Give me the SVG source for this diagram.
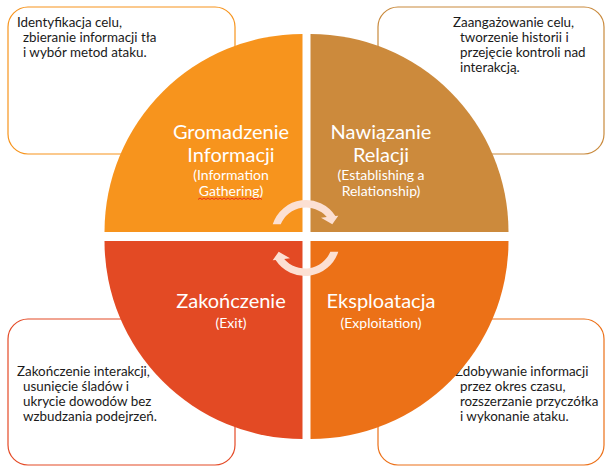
<svg xmlns="http://www.w3.org/2000/svg" width="611" height="473" viewBox="0 0 611 473">
<style>
.box{fill:#FFFFFF;stroke-width:1.2}
.bt{font-family:Lato,"Liberation Sans",sans-serif;font-size:13.4px;fill:#1A1A1A}
.qt{font-family:Lato,"Liberation Sans",sans-serif;fill:#FFFFFF;text-anchor:middle}
.big{font-size:20px}
.sm{font-size:14px}
.arr{fill:#FCE0D3}
</style>
<rect width="611" height="473" fill="#FFFFFF"/>
<g id="box-gathering">
<rect class="box" x="8" y="7" width="227" height="147" rx="20" stroke="#F7941D"/>
<text class="bt"><tspan x="17" y="27">Identyfikacja celu,</tspan><tspan x="23" y="42">zbieranie informacji tła</tspan><tspan x="23" y="57">i wybór metod ataku.</tspan></text>
</g>
<g id="box-relationship">
<rect class="box" x="378" y="7" width="226" height="147" rx="20" stroke="#C98A3D"/>
<text class="bt"><tspan x="453" y="27">Zaangażowanie celu,</tspan><tspan x="460" y="42">tworzenie historii i</tspan><tspan x="460" y="57">przejęcie kontroli nad</tspan><tspan x="460" y="72">interakcją.</tspan></text>
</g>
<g id="box-exit">
<rect class="box" x="8" y="319" width="227" height="146" rx="20" stroke="#E44A26"/>
<text class="bt"><tspan x="17" y="376">Zakończenie interakcji,</tspan><tspan x="23" y="391">usunięcie śladów i</tspan><tspan x="23" y="406">ukrycie dowodów bez</tspan><tspan x="23" y="421">wzbudzania podejrzeń.</tspan></text>
</g>
<g id="box-exploitation">
<rect class="box" x="378" y="319" width="226" height="146" rx="20" stroke="#EC7018"/>
<text class="bt"><tspan x="455" y="376">Zdobywanie informacji</tspan><tspan x="460" y="391">przez okres czasu,</tspan><tspan x="460" y="406">rozszerzanie przyczółka</tspan><tspan x="460" y="421">i wykonanie ataku.</tspan></text>
</g>
<g id="q-gathering">
<path d="M302.5,232 L104.5,232 A198,198 0 0 1 302.5,34 Z" fill="#F7941D"/>
<text class="qt"><tspan class="big" x="231" y="139">Gromadzenie</tspan><tspan class="big" x="231" y="162">Informacji</tspan><tspan class="sm" x="231" y="180">(Information</tspan><tspan class="sm" x="231" y="196">Gathering)</tspan></text>
<path d="M198,199.5 l2,-1.5 l2,1.5 l2,-1.5 l2,1.5 l2,-1.5 l2,1.5 l2,-1.5 l2,1.5 l2,-1.5 l2,1.5 l2,-1.5 l2,1.5 l2,-1.5 l2,1.5 l2,-1.5 l2,1.5 l2,-1.5 l2,1.5 l2,-1.5 l2,1.5 l2,-1.5 l2,1.5 l2,-1.5 l2,1.5 l2,-1.5 l2,1.5 l2,-1.5 l2,1.5 l2,-1.5 l2,1.5 l2,-1.5 l2,1.5" fill="none" stroke="#E8141B" stroke-width="0.8"/>
</g>
<g id="q-relationship">
<path d="M310.5,232 L310.5,34 A198,198 0 0 1 508.5,232 Z" fill="#CC8A3C"/>
<text class="qt"><tspan class="big" x="381" y="139">Nawiązanie</tspan><tspan class="big" x="381" y="162">Relacji</tspan><tspan class="sm" x="381" y="180">(Establishing a</tspan><tspan class="sm" x="381" y="196">Relationship)</tspan></text>
</g>
<g id="q-exit">
<path d="M302.5,241 L302.5,439 A198,198 0 0 1 104.5,241 Z" fill="#E34A24"/>
<text class="qt"><tspan class="big" x="231" y="308">Zakończenie</tspan><tspan class="sm" x="231" y="328">(Exit)</tspan></text>
</g>
<g id="q-exploitation">
<path d="M310.5,241 L508.5,241 A198,198 0 0 1 310.5,439 Z" fill="#EC7117"/>
<text class="qt"><tspan class="big" x="381" y="308">Eksploatacja</tspan><tspan class="sm" x="381" y="328">(Exploitation)</tspan></text>
</g>
<g id="connectors">
<path id="cycle-arrow" class="arr" d="M272.7,224.3 A35,35 0 0 1 335.4,216 L338.3,215.7 L332.3,224.3 L321,217.7 L326.8,217 A27.5,27.5 0 0 0 280.7,224.3 Z"/>
<path class="arr" transform="rotate(180 305.5 238)" d="M272.7,224.3 A35,35 0 0 1 335.4,216 L338.3,215.7 L332.3,224.3 L321,217.7 L326.8,217 A27.5,27.5 0 0 0 280.7,224.3 Z"/>
</g>
</svg>
